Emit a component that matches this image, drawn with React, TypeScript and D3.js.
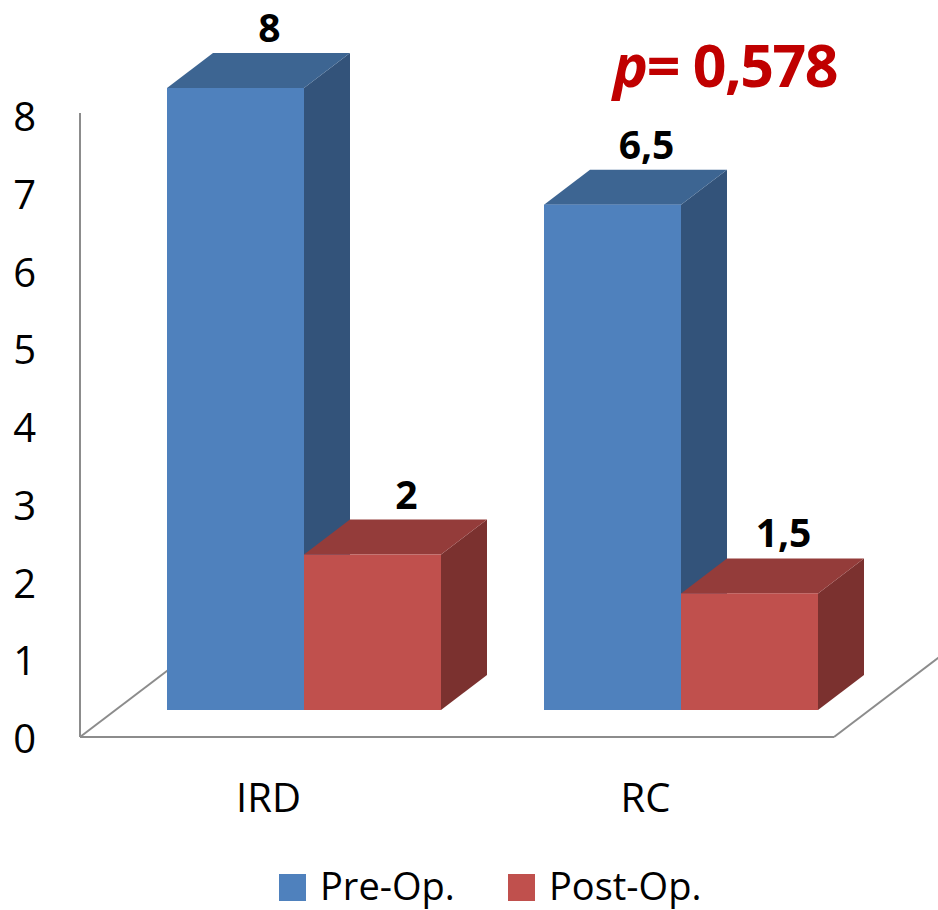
import React from 'react';
import * as d3 from 'd3';

// chart data
const categories = ['IRD', 'RC'];
const seriesNames = ['Pre-Op.', 'Post-Op.'];
const preOp = [8, 6.5];
const postOp = [2, 1.5];
const valueLabels = [['8', '2'], ['6,5', '1,5']];
const yTicks = [0, 1, 2, 3, 4, 5, 6, 7, 8];
const pValue = '= 0,578';

const W = 938;
const H = 910;
const font = '"Open Sans", "Liberation Sans", sans-serif';

// face colours: front, top, side
const palette = [
  { front: '#4F81BD', top: '#3D6592', side: '#33537A' },
  { front: '#C0504D', top: '#943C3A', side: '#7B312F' },
];

// 3D depth offset of the bars
const DX = 46;
const DY = 35;
const INSET = 27; // bars sit behind the front plane of the floor

const App: React.FC = () => {
  const floorLeft = 80;
  const floorRight = 834;

  const y = d3.scaleLinear().domain([0, 8]).range([737, 115]);
  const x = d3.scaleBand<string>().domain(categories).range([floorLeft, floorRight]).paddingInner(0);
  const sub = d3.scaleBand<string>().domain(seriesNames).range([0, 274]).padding(0);

  const values = [preOp, postOp];
  const base = y(0) - INSET;

  const bars: JSX.Element[] = [];
  categories.forEach((cat, ci) => {
    seriesNames.forEach((s, si) => {
      const v = values[si][ci];
      const x0 = (x(cat) as number) + 87 + (sub(s) as number);
      const w = sub.bandwidth();
      const x1 = x0 + w;
      const top = y(v) - INSET;
      const c = palette[si];
      bars.push(
        <g key={`${cat}-${s}`}>
          <polygon
            points={`${x1},${top} ${x1 + DX},${top - DY} ${x1 + DX},${base - DY} ${x1},${base}`}
            fill={c.side}
          />
          <polygon
            points={`${x0},${top} ${x0 + DX},${top - DY} ${x1 + DX},${top - DY} ${x1},${top}`}
            fill={c.top}
          />
          <rect x={x0} y={top} width={w} height={base - top} fill={c.front} />
          <text
            x={x0 + w / 2 + 34}
            y={top - DY - 11}
            textAnchor="middle"
            fontFamily={font}
            fontWeight={700}
            fontSize={39}
            fill="#000"
          >
            {valueLabels[ci][si]}
          </text>
        </g>
      );
    });
  });

  const slope = 0.76;

  return (
    <div style={{ position: 'absolute', left: 0, top: 0 }}>
      <svg width={W} height={H} style={{ display: 'block', background: '#fff' }}>
        {/* floor and wall lines */}
        <g stroke="#8C8C8C" strokeWidth={2} fill="none">
          <line x1={floorLeft} y1={y(0)} x2={floorLeft} y2={y(8) - 2} />
          <line x1={floorLeft} y1={y(0)} x2={floorLeft + 130} y2={y(0) - 130 * slope} />
          <line x1={floorLeft} y1={y(0)} x2={floorRight} y2={y(0)} />
          <line x1={floorRight} y1={y(0)} x2={floorRight + 130} y2={y(0) - 130 * slope} />
        </g>

        {/* y tick labels */}
        {yTicks.map(t => (
          <text
            key={t}
            x={36}
            y={y(t) + 16}
            textAnchor="end"
            fontFamily={font}
            fontSize={40}
            fill="#000"
          >
            {t}
          </text>
        ))}

        {bars}

        {/* category labels */}
        {categories.map(c => (
          <text
            key={c}
            x={(x(c) as number) + x.bandwidth() / 2}
            y={812}
            textAnchor="middle"
            fontFamily={font}
            fontSize={40}
            fill="#000"
          >
            {c}
          </text>
        ))}

        {/* p value */}
        <text x={613} y={87} fontFamily={font} fontWeight={700} fontSize={59} fill="#C00000" letterSpacing={-1.5}>
          <tspan fontStyle="italic">p</tspan>
          {pValue}
        </text>

        {/* legend */}
        {seriesNames.map((s, i) => {
          const lx = [279, 508][i];
          return (
            <g key={s}>
              <rect x={lx} y={874} width={27} height={27} fill={palette[i].front} />
              <text x={lx + 41} y={900} fontFamily={font} fontSize={38} fill="#000">
                {s}
              </text>
            </g>
          );
        })}
      </svg>
    </div>
  );
};

export default App;
